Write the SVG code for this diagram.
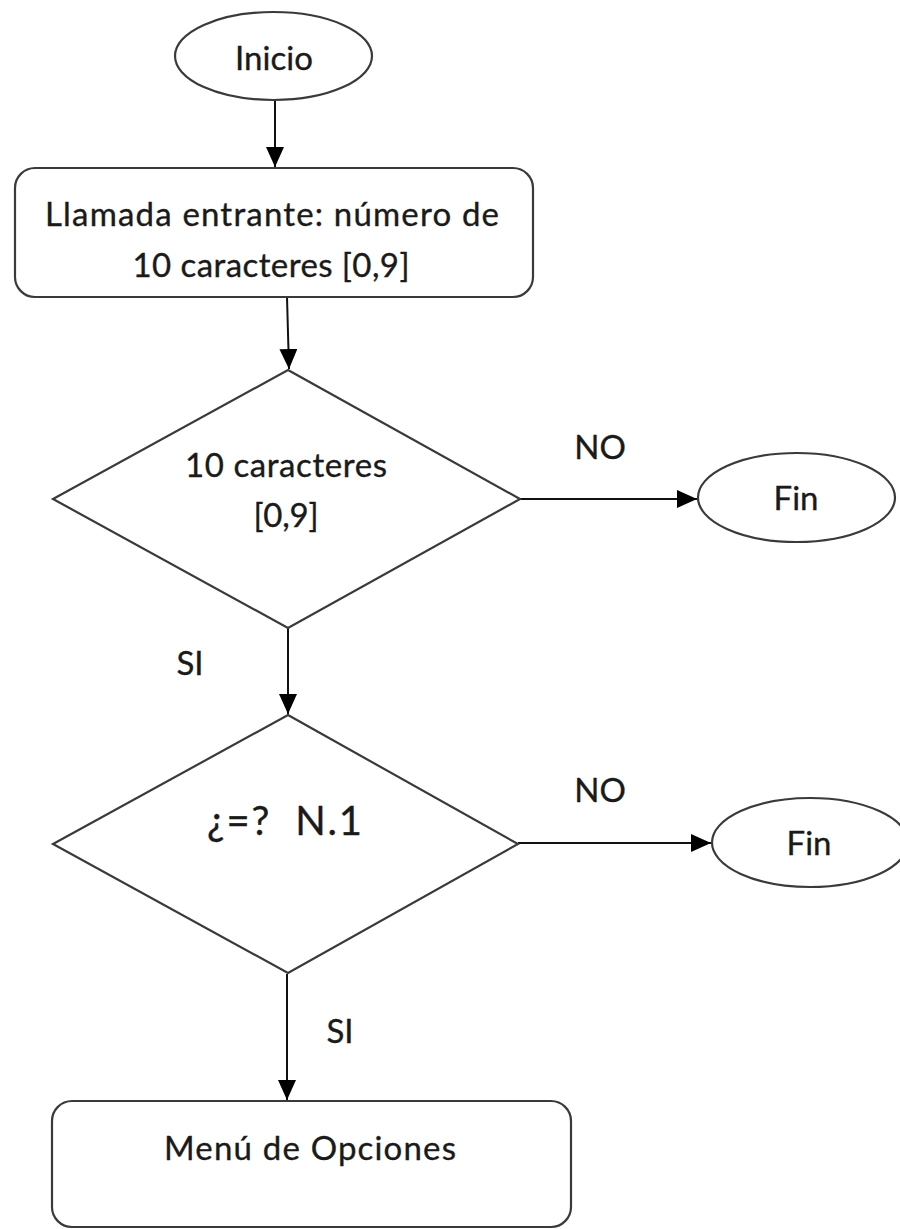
<svg xmlns="http://www.w3.org/2000/svg" width="900" height="1229" viewBox="0 0 900 1229">
  <style>
    .shape { fill: #ffffff; stroke: #3a3a3a; stroke-width: 2.2; }
    .edge { fill: none; stroke: #111111; stroke-width: 2; }
    .lbl { font-family: Lato, "Open Sans", "Liberation Sans", sans-serif; font-size: 33px; fill: #1a1a1a; stroke: #1a1a1a; stroke-width: 0.35; text-anchor: middle; }
    .big { font-size: 40px; white-space: pre; }
  </style>
  <defs>
    <marker id="arrow" markerUnits="userSpaceOnUse" markerWidth="20" markerHeight="18" refX="20" refY="9" orient="auto">
      <path d="M0,0 L20,9 L0,18 Z" fill="#000000"/>
    </marker>
  </defs>
  <rect width="900" height="1229" fill="#ffffff"/>

  <!-- connectors -->
  <g id="connectors">
    <line class="edge" x1="275" y1="100" x2="275" y2="167" marker-end="url(#arrow)"/>
    <line class="edge" x1="287" y1="297" x2="289" y2="369" marker-end="url(#arrow)"/>
    <line class="edge" x1="520" y1="499" x2="697" y2="499" marker-end="url(#arrow)"/>
    <line class="edge" x1="288" y1="628" x2="288" y2="714" marker-end="url(#arrow)"/>
    <line class="edge" x1="518" y1="843" x2="711" y2="843" marker-end="url(#arrow)"/>
    <line class="edge" x1="287" y1="974" x2="287" y2="1100" marker-end="url(#arrow)"/>
    <text class="lbl" x="600" y="459">NO</text>
    <text class="lbl" x="600" y="802">NO</text>
    <text class="lbl" x="190" y="675">SI</text>
    <text class="lbl" x="340" y="1043">SI</text>
  </g>

  <!-- start -->
  <g id="inicio">
    <ellipse class="shape" cx="273.5" cy="56" rx="98.5" ry="44"/>
    <text class="lbl" x="274" y="70" textLength="78">Inicio</text>
  </g>

  <!-- incoming call -->
  <g id="llamada">
    <rect class="shape" x="15" y="168" width="518" height="129" rx="20" ry="20"/>
    <text class="lbl" x="272" y="226" textLength="454">Llamada entrante: número de</text>
    <text class="lbl" x="271" y="277" textLength="277">10 caracteres [0,9]</text>
  </g>

  <!-- first check -->
  <g id="check-digits">
    <polygon class="shape" points="288,370 520,499 288,628 53,499"/>
    <text class="lbl" x="286" y="477" textLength="202">10 caracteres</text>
    <text class="lbl" x="286" y="527" textLength="65">[0,9]</text>
  </g>

  <g id="fin-1">
    <ellipse class="shape" cx="796.5" cy="497.5" rx="98.5" ry="44.5"/>
    <text class="lbl" x="796" y="510">Fin</text>
  </g>

  <!-- second check -->
  <g id="check-n1">
    <polygon class="shape" points="288,715 518,844 288,973 53,844"/>
    <text class="lbl big" x="284.5" y="835" textLength="155">¿=?  N.1</text>
  </g>

  <g id="fin-2">
    <ellipse class="shape" cx="810" cy="842.5" rx="98" ry="44.5"/>
    <text class="lbl" x="809" y="855">Fin</text>
  </g>

  <!-- options menu -->
  <g id="menu">
    <rect class="shape" x="52" y="1101" width="519" height="126" rx="20" ry="20"/>
    <text class="lbl" x="310" y="1160" textLength="292">Menú de Opciones</text>
  </g>
</svg>
